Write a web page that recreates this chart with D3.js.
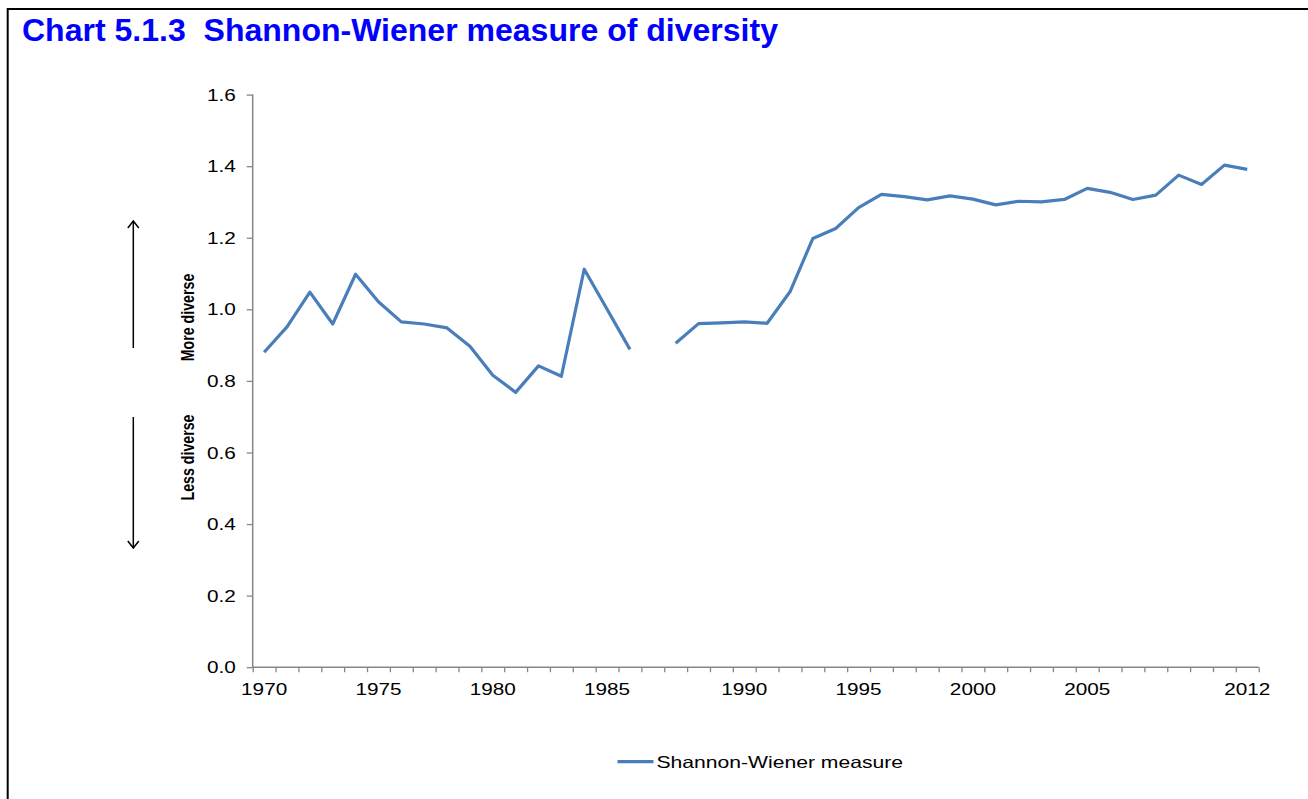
<!DOCTYPE html>
<html>
<head>
<meta charset="utf-8">
<script src="https://cdn.jsdelivr.net/npm/d3@7"></script>
<style>
  html, body { margin: 0; padding: 0; background: #fff; }
  svg { display: block; font-family: "Liberation Sans", Arial, sans-serif; }
  text { white-space: pre; }
</style>
</head>
<body>
<svg id="chart" width="1308" height="799"></svg>
<script>
// Category axis: 1970–1986, a break in the series, then 1987–2012
const years = [
  "1970","1971","1972","1973","1974","1975","1976","1977","1978","1979",
  "1980","1981","1982","1983","1984","1985","1986","",
  "1987","1988","1989","1990","1991","1992","1993","1994","1995","1996",
  "1997","1998","1999","2000","2001","2002","2003","2004","2005","2006",
  "2007","2008","2009","2010","2011","2012"
];

// Shannon-Wiener index (null marks the series break)
const shannonWiener = [
  0.880, 0.951, 1.048, 0.959, 1.098, 1.021, 0.965, 0.959, 0.948, 0.897,
  0.816, 0.768, 0.842, 0.813, 1.112, 1.000, 0.888, null,
  0.905, 0.960, 0.962, 0.965, 0.961, 1.049, 1.198, 1.226, 1.284, 1.321,
  1.315, 1.306, 1.317, 1.308, 1.292, 1.302, 1.300, 1.307, 1.338, 1.327,
  1.307, 1.319, 1.375, 1.349, 1.403, 1.391
];

const xTickLabels = ["1970","1975","1980","1985","1990","1995","2000","2005","2012"];
const yTicks = [0, 0.2, 0.4, 0.6, 0.8, 1.0, 1.2, 1.4, 1.6];

const titleText = "Chart 5.1.3  Shannon-Wiener measure of diversity";
const seriesName = "Shannon-Wiener measure";

const svg = d3.select("#chart");
const axisGrey = "#868686";
const lineBlue = "#4a7ebb";
const textStretch = 1.28;

// widen text horizontally
function stretchText(sel, k) {
  sel.each(function () {
    const w = this.getComputedTextLength();
    this.setAttribute("textLength", w * k);
    this.setAttribute("lengthAdjust", "spacingAndGlyphs");
  });
}

// frame
svg.append("path")
  .attr("d", "M7.7,799V9H1308")
  .attr("fill", "none")
  .attr("stroke", "#000")
  .attr("stroke-width", 2);

// title
svg.append("text")
  .attr("x", 22)
  .attr("y", 41)
  .attr("fill", "#0000ff")
  .attr("font-weight", "bold")
  .attr("font-size", 31.5)
  .attr("textLength", 756)
  .attr("lengthAdjust", "spacingAndGlyphs")
  .text(titleText);

// scales
const plotLeft = 252.7, plotRight = 1258.7, plotTop = 94.6, plotBottom = 667.2;
const idx = d3.range(years.length);
const x = d3.scaleBand().domain(idx).range([plotLeft, plotRight]).padding(0);
const xEdges = d3.scaleLinear().domain([0, years.length]).range([plotLeft, plotRight]);
const y = d3.scaleLinear().domain([0, 1.6]).range([plotBottom, plotTop]);

// y axis
const gy = svg.append("g")
  .attr("transform", `translate(${plotLeft},0)`)
  .call(d3.axisLeft(y).tickValues(yTicks).tickFormat(d3.format(".1f")).tickSize(6).tickPadding(11));
gy.select(".domain").attr("stroke", axisGrey).attr("stroke-width", 1.5).attr("d", `M0,${plotTop}V${plotBottom}`);
gy.selectAll(".tick line").attr("stroke", axisGrey).attr("stroke-width", 1.3);
gy.selectAll(".tick text").attr("font-size", 16.2).attr("fill", "#000").attr("font-family", null).attr("dy", "0.35em");
stretchText(gy.selectAll(".tick text"), textStretch);

// x axis tick marks on category boundaries
const gxt = svg.append("g")
  .attr("transform", `translate(0,${plotBottom})`)
  .call(d3.axisBottom(xEdges).tickValues(d3.range(years.length + 1)).tickFormat("").tickSize(5));
gxt.select(".domain").attr("stroke", axisGrey).attr("stroke-width", 1.5).attr("d", `M${plotLeft},0H${plotRight}`);
gxt.selectAll(".tick line").attr("stroke", axisGrey).attr("stroke-width", 1.3);

// x axis labels centred on categories
const labelIdx = idx.filter(i => xTickLabels.includes(years[i]));
const gxl = svg.append("g")
  .attr("transform", `translate(0,${plotBottom})`)
  .call(d3.axisBottom(x).tickValues(labelIdx).tickFormat(i => years[i]).tickSize(0).tickPadding(16));
gxl.select(".domain").remove();
gxl.selectAll(".tick text").attr("font-size", 16.2).attr("fill", "#000").attr("font-family", null).attr("dy", "0.71em");
stretchText(gxl.selectAll(".tick text"), textStretch);

// series line
const line = d3.line()
  .defined(d => d.v != null)
  .x(d => x(d.i) + x.bandwidth() / 2)
  .y(d => y(d.v));
svg.append("path")
  .datum(idx.map(i => ({ i, v: shannonWiener[i] })))
  .attr("d", line)
  .attr("fill", "none")
  .attr("stroke", lineBlue)
  .attr("stroke-width", 3.2)
  .attr("stroke-linejoin", "round")
  .attr("stroke-linecap", "butt");

// direction arrows
const defs = svg.append("defs");
defs.append("marker")
  .attr("id", "openArrow")
  .attr("viewBox", "-8 -8 16 16")
  .attr("refX", 0).attr("refY", 0)
  .attr("markerWidth", 16).attr("markerHeight", 16)
  .attr("markerUnits", "userSpaceOnUse")
  .attr("orient", "auto")
  .append("path")
  .attr("d", "M-7,-5.5L0,0L-7,5.5")
  .attr("fill", "none")
  .attr("stroke", "#000")
  .attr("stroke-width", 1.5);

svg.append("line")
  .attr("x1", 133.3).attr("y1", 348).attr("x2", 133.3).attr("y2", 221)
  .attr("stroke", "#000").attr("stroke-width", 1.5)
  .attr("marker-end", "url(#openArrow)");
svg.append("line")
  .attr("x1", 133.3).attr("y1", 417).attr("x2", 133.3).attr("y2", 548)
  .attr("stroke", "#000").attr("stroke-width", 1.5)
  .attr("marker-end", "url(#openArrow)");

// rotated annotations
[["More diverse", 317.5], ["Less diverse", 457.5]].forEach(([t, cy]) => {
  svg.append("text")
    .attr("transform", `translate(193.5,${cy}) scale(${textStretch},1) rotate(-90)`)
    .attr("text-anchor", "middle")
    .attr("font-weight", "bold")
    .attr("font-size", 14.2)
    .attr("fill", "#000")
    .text(t);
});

// legend
const legend = svg.append("g");
legend.append("line")
  .attr("x1", 617.5).attr("x2", 653.5)
  .attr("y1", 761.7).attr("y2", 761.7)
  .attr("stroke", lineBlue).attr("stroke-width", 3.2);
const legText = legend.append("text")
  .attr("x", 656.5).attr("y", 767.8)
  .attr("font-size", 16.5)
  .attr("fill", "#000")
  .text(seriesName);
stretchText(legText, textStretch);
</script>
</body>
</html>
